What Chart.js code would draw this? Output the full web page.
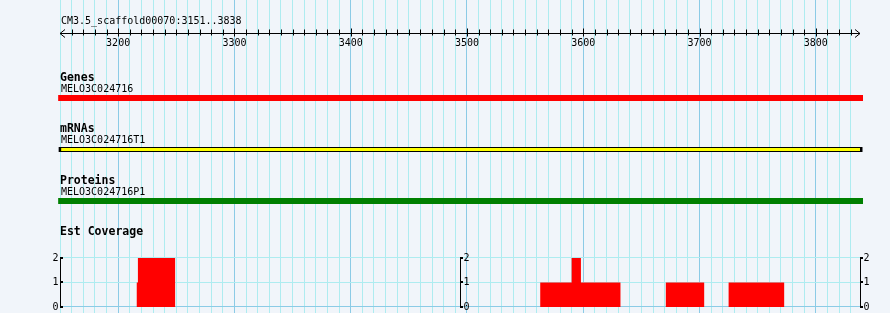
<!DOCTYPE html>
<html>
<head>
<meta charset="utf-8">
<script src="https://cdn.jsdelivr.net/npm/chart.js@4"></script>
<style>
  html, body { margin: 0; padding: 0; background: #f1f5fa; }
  #wrap { width: 890px; height: 313px; }
</style>
</head>
<body>
<div id="wrap"><canvas id="track" width="890" height="313"></canvas></div>
<script>
// region shown
const regionName = 'CM3.5_scaffold00070';
const regionStart = 3151;
const regionEnd = 3838;

// tracks (feature start/end in bp)
const trackTitles = ['Genes', 'mRNAs', 'Proteins'];
const featureNames = ['MELO3C024716', 'MELO3C024716T1', 'MELO3C024716P1'];
const featureStart = [3151, 3151, 3151];
const featureEnd = [3838, 3838, 3838];

// EST coverage: depth holds from each position to the next one
const covTitle = 'Est Coverage';
const covPos = [3216, 3217, 3249, 3563, 3590, 3598, 3632, 3671, 3704, 3725, 3773];
const covDepth = [1, 2, 0, 1, 2, 1, 0, 1, 0, 1, 0];
const covTicks = [0, 1, 2];

const FONT = '"DejaVu Sans Mono", monospace';
const minorGrid = '#aeecf0';
const majorGrid = '#8ccbe6';

// punkty dla poziomych linii ścieżek
function span(i) {
    return [{ x: featureStart[i], y: i }, { x: featureEnd[i], y: i }];
}

const covData = [{ x: regionStart - 1, y: 0 }].concat(
    covPos.map((p, i) => ({ x: p, y: covDepth[i] }))
);

// rysowanie linijki, podpisów i osi pokrycia
const browserPlugin = {
    id: 'browser',
    beforeDraw(chart) {
        const c = chart.ctx;
        c.save();
        c.fillStyle = '#f1f5fa';
        c.fillRect(0, 0, chart.width, chart.height);
        c.restore();
    },
    afterDraw(chart) {
        const c = chart.ctx;
        const x = chart.scales.x;
        const yCov = chart.scales.yCov;
        const yTrack = chart.scales.yTrack;
        const left = chart.chartArea.left;
        const right = chart.chartArea.right;
        c.save();
        c.fillStyle = '#000';
        c.strokeStyle = '#000';
        c.lineWidth = 1;

        // ruler
        c.font = '10px ' + FONT;
        c.textBaseline = 'alphabetic';
        c.textAlign = 'left';
        c.fillText(regionName + ':' + regionStart + '..' + regionEnd, left + 1, 24);
        const ry = 33.5;
        c.beginPath();
        c.moveTo(left, ry); c.lineTo(right, ry);
        c.moveTo(left + 5, ry - 4); c.lineTo(left, ry); c.lineTo(left + 5, ry + 4);
        c.moveTo(right - 5, ry - 4); c.lineTo(right, ry); c.lineTo(right - 5, ry + 4);
        x.ticks.forEach(t => {
            if (t.value <= regionStart) return;
            const px = Math.round(x.getPixelForValue(t.value)) + 0.5;
            const major = t.value % 100 === 0;
            c.moveTo(px, major ? ry - 5 : ry - 4);
            c.lineTo(px, major ? ry + 3 : ry + 2);
        });
        c.stroke();
        c.textAlign = 'center';
        x.ticks.forEach(t => {
            if (t.value % 100 === 0) {
                c.fillText(String(t.value), x.getPixelForValue(t.value), 46);
            }
        });

        // track titles and feature names
        c.textAlign = 'left';
        trackTitles.forEach((title, i) => {
            const py = yTrack.getPixelForValue(i);
            c.font = 'bold 11.5px ' + FONT;
            c.fillText(title, left, py - 17);
            c.font = '10px ' + FONT;
            c.fillText(featureNames[i], left + 1, py - 6);
        });
        c.font = 'bold 11.5px ' + FONT;
        c.fillText(covTitle, left, 235);

        // coverage axes (left, middle, right)
        const axesX = [left, (left + right) / 2, right];
        const top = yCov.getPixelForValue(covTicks[covTicks.length - 1]);
        const bot = yCov.getPixelForValue(covTicks[0]);
        c.font = '10px ' + FONT;
        c.textBaseline = 'middle';
        axesX.forEach((ax, k) => {
            const px = Math.round(ax) + 0.5;
            c.beginPath();
            c.moveTo(px + 2, top + 0.5); c.lineTo(px, top + 0.5);
            c.lineTo(px, bot - 0.5); c.lineTo(px + 2, bot - 0.5);
            c.stroke();
            covTicks.forEach(v => {
                const py = Math.round(yCov.getPixelForValue(v));
                c.fillRect(px - 0.5, py - 1, 3, 2);
                if (k === 0) {
                    c.textAlign = 'right';
                    c.fillText(String(v), px - 2, py);
                } else {
                    c.textAlign = 'left';
                    c.fillText(String(v), px + 3, py);
                }
            });
        });
        c.restore();
    }
};

new Chart(document.getElementById('track'), {
    type: 'line',
    data: {
        datasets: [
            {
                data: covData,
                yAxisID: 'yCov',
                stepped: 'before',
                fill: 'origin',
                backgroundColor: '#ff0000',
                borderWidth: 0,
                pointRadius: 0
            },
            {
                data: span(0),
                yAxisID: 'yTrack',
                borderColor: '#ff0000',
                borderWidth: 6,
                borderCapStyle: 'square',
                pointRadius: 0,
                clip: false
            },
            {
                // yellow body drawn above the black outline
                data: span(1),
                yAxisID: 'yTrack',
                borderColor: '#ffff00',
                borderWidth: 3,
                borderCapStyle: 'butt',
                pointRadius: 0,
                clip: false
            },
            {
                data: span(1),
                yAxisID: 'yTrack',
                borderColor: '#000',
                borderWidth: 5,
                borderCapStyle: 'square',
                pointRadius: 0,
                clip: false
            },
            {
                data: span(2),
                yAxisID: 'yTrack',
                borderColor: '#008000',
                borderWidth: 6,
                borderCapStyle: 'square',
                pointRadius: 0,
                clip: false
            }
        ]
    },
    options: {
        responsive: false,
        animation: false,
        layout: { padding: { left: 60, right: 30, top: 0, bottom: 0 } },
        plugins: { legend: { display: false }, tooltip: { enabled: false } },
        scales: {
            x: {
                type: 'linear',
                min: regionStart - 1,
                max: regionEnd,
                ticks: { display: false, stepSize: 10, includeBounds: false },
                border: { display: false },
                grid: {
                    drawTicks: false,
                    color: ctx => (ctx.tick && ctx.tick.value % 100 === 0) ? majorGrid : minorGrid
                }
            },
            yCov: {
                type: 'linear',
                position: 'left',
                min: -0.245,
                max: 12.53,
                afterBuildTicks: s => { s.ticks = covTicks.map(v => ({ value: v })); },
                ticks: { display: false },
                border: { display: false },
                grid: {
                    drawTicks: false,
                    color: ctx => (ctx.tick && ctx.tick.value === 0) ? majorGrid : minorGrid
                }
            },
            yTrack: {
                type: 'linear',
                display: false,
                reverse: true,
                min: -1.903,
                max: 4.175
            }
        }
    },
    plugins: [browserPlugin]
});
</script>
</body>
</html>
